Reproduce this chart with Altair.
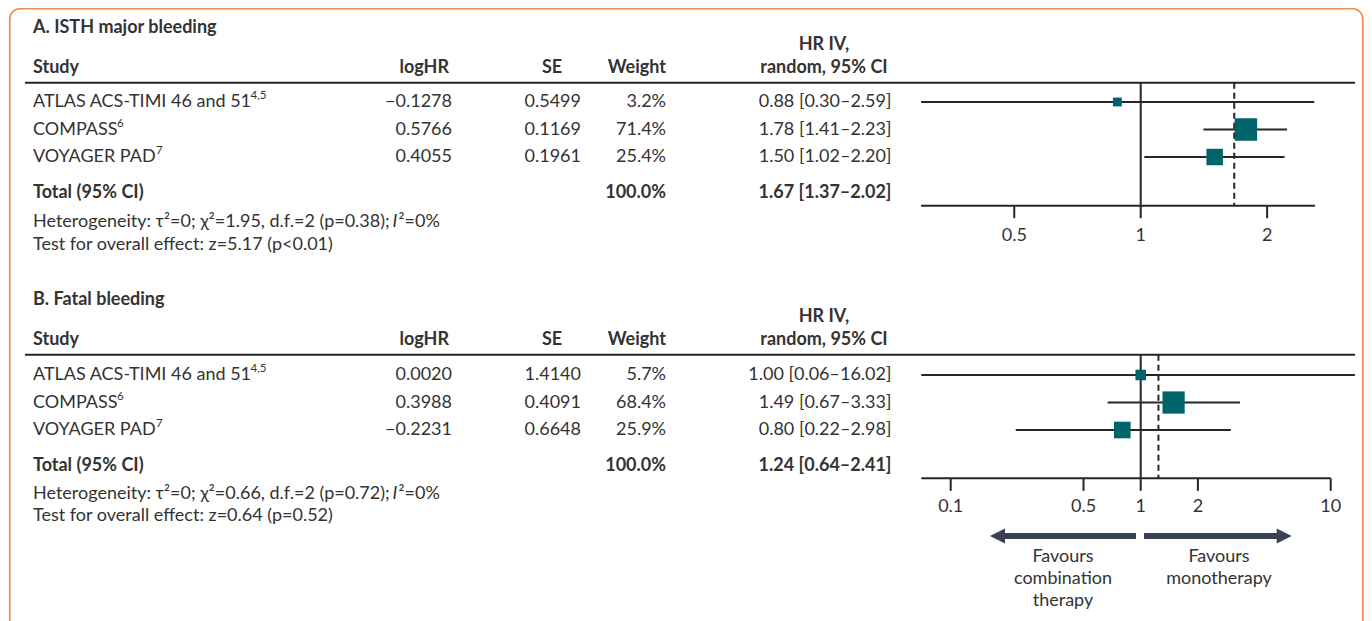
import math
import altair as alt
import pandas as pd

# ---------------- data ----------------
studies = ["ATLAS ACS-TIMI 46 and 51", "COMPASS", "VOYAGER PAD"]
study_refs = ["4,5", "6", "7"]

a_title = "A. ISTH major bleeding"
a_loghr = [-0.1278, 0.5766, 0.4055]
a_se = [0.5499, 0.1169, 0.1961]
a_weight = [3.2, 71.4, 25.4]
a_hr = [0.88, 1.78, 1.50]
a_lo = [0.30, 1.41, 1.02]
a_hi = [2.59, 2.23, 2.20]
a_total = [1.67, 1.37, 2.02]
a_het = ["Heterogeneity: τ²=0; χ²=1.95, d.f.=2 (p=0.38);", "I", "²=0%"]
a_test = "Test for overall effect: z=5.17 (p<0.01)"
a_ticks = [0.5, 1, 2]
a_axis = [0.3, 2.6]

b_title = "B. Fatal bleeding"
b_loghr = [0.0020, 0.3988, -0.2231]
b_se = [1.4140, 0.4091, 0.6648]
b_weight = [5.7, 68.4, 25.9]
b_hr = [1.00, 1.49, 0.80]
b_lo = [0.06, 0.67, 0.22]
b_hi = [16.02, 3.33, 2.98]
b_total = [1.24, 0.64, 2.41]
b_het = ["Heterogeneity: τ²=0; χ²=0.66, d.f.=2 (p=0.72);", "I", "²=0%"]
b_test = "Test for overall effect: z=0.64 (p=0.52)"
b_ticks = [0.1, 0.5, 1, 2, 10]
b_axis = [0.07, 10]

total_label = "Total (95% CI)"
total_weight = "100.0%"
header_cols = ["Study", "logHR", "SE", "Weight"]
header_hr = ["HR IV,", "random, 95% CI"]
favours_left = ["Favours", "combination", "therapy"]
favours_right = ["Favours", "monotherapy"]

# ---------------- style / layout ----------------
FONT = "Lato"
FS = 18
TXT = "#333333"
LINE = "#262626"
TEAL = "#00646B"
PURPLE = "#5B2372"
ORANGE = "#EE8A4E"
ARROW = "#3B4253"

OX, OY = 8, 8          # page offset of the view
W, H = 1356, 613


def px(x):
    return x - OX


def py(y):
    return y - OY


ROW_H = 27.5
A_FIRST, B_FIRST = 102, 375
TOTAL_GAP = 36
DIAMOND_H = 8.3

Y_SCALE = alt.Scale(domain=[0, 1], range=[py(A_FIRST), py(A_FIRST + ROW_H)], nice=False, zero=False)


def Y(field="r"):
    return alt.Y(f"{field}:Q", scale=Y_SCALE, axis=None)


def log_scale(center, per_decade, dom):
    rng = [px(center + per_decade * math.log10(d)) for d in dom]
    return alt.Scale(type="log", domain=dom, range=rng, clamp=True, nice=False)


A_SCALE = log_scale(1140.7, 420, [0.3, 2.6])
B_SCALE = log_scale(1140.7, 190, [0.07, 13.4])


def fmt_num(v):
    return f"{v:.4f}".replace("-", "−")


def one():
    return pd.DataFrame({"d": [0]})


def label(text, x, y, align="left", bold=False, italic=False, size=FS, color=TXT):
    kw = dict(align=align, baseline="middle", font=FONT, fontSize=size, color=color)
    if bold:
        kw["fontWeight"] = "bold"
    if italic:
        kw["fontStyle"] = "italic"
    return alt.Chart(pd.DataFrame({"t": [text]})).mark_text(**kw).encode(
        x=alt.value(px(x)), y=alt.value(py(y)), text="t:N")


def hrule(x1, x2, y, width=2, color=LINE):
    return alt.Chart(one()).mark_rule(color=color, strokeWidth=width).encode(
        x=alt.value(px(x1)), x2=alt.value(px(x2)), y=alt.value(py(y)))


layers = []

# border
layers.append(alt.Chart(one()).mark_rect(
    fill=None, stroke=ORANGE, strokeWidth=1.6, cornerRadius=10).encode(
    x=alt.value(1.8), x2=alt.value(W - 1.2), y=alt.value(0.8), y2=alt.value(py(660))))


def panel(title, loghr, se, weight, hr, lo, hi, total, het, test, ticks, axis, scale,
          first, title_y, hr_y, head_y, line_y, axis_y, tick_lab_y, het_y, test_y,
          sup_x, het_x):
    L = []
    rows = [(first - A_FIRST) / ROW_H + i for i in range(len(studies))]
    r_total = (first + (len(studies) - 1) * ROW_H + TOTAL_GAP - A_FIRST) / ROW_H
    df = pd.DataFrame({
        "study": studies, "loghr": [fmt_num(v) for v in loghr],
        "se": [f"{v:.4f}" for v in se], "wtxt": [f"{w:.1f}%" for w in weight],
        "ci": [f"{h:.2f} [{l:.2f}–{u:.2f}]" for h, l, u in zip(hr, lo, hi)],
        "hr": hr, "lo": lo, "hi": hi, "w": weight, "r": rows,
    })
    X = lambda f: alt.X(f"{f}:Q", scale=scale, axis=None)

    # titles & headers
    L.append(label(title, 33, title_y, bold=True))
    L.append(label(header_hr[0], 824, hr_y, align="center", bold=True))
    L.append(label(header_cols[0], 33, head_y, bold=True))
    L.append(label(header_cols[1], 449, head_y, align="right", bold=True))
    L.append(label(header_cols[2], 552, head_y, align="center", bold=True))
    L.append(label(header_cols[3], 666, head_y, align="right", bold=True))
    L.append(label(header_hr[1], 824, head_y, align="center", bold=True))
    L.append(hrule(25, 1355, line_y, width=2))

    # table rows
    def col(field, x, align):
        return alt.Chart(df).mark_text(align=align, baseline="middle", font=FONT,
                                       fontSize=FS, color=TXT).encode(
            x=alt.value(px(x)), y=Y(), text=f"{field}:N")
    L.append(col("study", 33, "left"))
    L.append(col("loghr", 452, "right"))
    L.append(col("se", 581, "right"))
    L.append(col("wtxt", 666, "right"))
    L.append(col("ci", 891.5, "right"))
    for i, ref in enumerate(study_refs):
        L.append(alt.Chart(pd.DataFrame({"t": [ref], "r": [rows[i]]})).mark_text(
            align="left", baseline="middle", font=FONT, fontSize=11.5, dy=-6, color=TXT).encode(
            x=alt.value(px(sup_x[i])), y=Y(), text="t:N"))

    # total row
    tdf = pd.DataFrame({"a": [total_label], "b": [total_weight],
                        "c": [f"{total[0]:.2f} [{total[1]:.2f}–{total[2]:.2f}]"],
                        "r": [r_total]})
    for field, x, align in [("a", 33, "left"), ("b", 666, "right"), ("c", 891.5, "right")]:
        L.append(alt.Chart(tdf).mark_text(align=align, baseline="middle", font=FONT,
                                          fontSize=FS, fontWeight="bold", color=TXT).encode(
            x=alt.value(px(x)), y=Y(), text=f"{field}:N"))

    # footnotes
    L.append(label(het[0], 33, het_y))
    L.append(label(het[1], het_x[0], het_y, italic=True))
    L.append(label(het[2], het_x[1], het_y))
    L.append(label(test, 33, test_y))

    # forest: reference lines
    L.append(alt.Chart(pd.DataFrame({"v": [1.0]})).mark_rule(color=LINE, strokeWidth=2).encode(
        x=X("v"), y=alt.value(py(line_y)), y2=alt.value(py(axis_y))))
    L.append(alt.Chart(pd.DataFrame({"v": [total[0]]})).mark_rule(
        color=LINE, strokeWidth=2, strokeDash=[6, 4]).encode(
        x=X("v"), y=alt.value(py(line_y)), y2=alt.value(py(axis_y))))
    # axis
    L.append(alt.Chart(pd.DataFrame({"a": [axis[0]], "b": [axis[1]]})).mark_rule(
        color=LINE, strokeWidth=2).encode(x=X("a"), x2=alt.X2("b:Q"), y=alt.value(py(axis_y))))
    tdf2 = pd.DataFrame({"t": ticks, "lab": [f"{t:g}" for t in ticks]})
    L.append(alt.Chart(tdf2).mark_rule(color=LINE, strokeWidth=2).encode(
        x=X("t"), y=alt.value(py(axis_y)), y2=alt.value(py(axis_y + 12.5))))
    L.append(alt.Chart(tdf2).mark_text(baseline="middle", align="center", font=FONT,
                                       fontSize=FS, color=TXT).encode(
        x=X("t"), y=alt.value(py(tick_lab_y)), text="lab:N"))

    # CI lines and squares
    L.append(alt.Chart(df).mark_rule(color=LINE, strokeWidth=2).encode(
        x=X("lo"), x2=alt.X2("hi:Q"), y=Y()))
    L.append(alt.Chart(df).mark_square(color=TEAL, opacity=1, filled=True).encode(
        x=X("hr"), y=Y(),
        size=alt.Size("w:Q", scale=alt.Scale(type="pow", exponent=0.6, domain=[0, 100],
                                             range=[0, 620]), legend=None)))
    # diamond
    h = DIAMOND_H / ROW_H
    ddf = pd.DataFrame({"x": [total[1], total[0], total[2]],
                        "r": [r_total, r_total - h, r_total],
                        "r2": [r_total, r_total + h, r_total], "o": [0, 1, 2]})
    L.append(alt.Chart(ddf).mark_area(color=PURPLE, orient="vertical", opacity=1).encode(
        x=X("x"), y=Y(), y2=alt.Y2("r2:Q"), order="o:Q"))
    return L


layers += panel(a_title, a_loghr, a_se, a_weight, a_hr, a_lo, a_hi, a_total, a_het, a_test,
                a_ticks, a_axis, A_SCALE, A_FIRST,
                title_y=28.3, hr_y=45, head_y=68.3, line_y=82.7, axis_y=205.7,
                tick_lab_y=235.5, het_y=221.7, test_y=244.5,
                sup_x=[250.5, 117, 156], het_x=[392.5, 398.5])
layers += panel(b_title, b_loghr, b_se, b_weight, b_hr, b_lo, b_hi, b_total, b_het, b_test,
                b_ticks, b_axis, B_SCALE, B_FIRST,
                title_y=300, hr_y=316.5, head_y=340, line_y=354.7, axis_y=478.3,
                tick_lab_y=506.5, het_y=494, test_y=516,
                sup_x=[250.5, 117, 156], het_x=[392.5, 398.5])

# favours arrows
layers.append(hrule(1000, 1136, 536, width=6, color=ARROW))
layers.append(hrule(1144, 1283, 536, width=6, color=ARROW))
layers.append(alt.Chart(one()).mark_point(
    shape="M -1 0 L 1 -1 L 1 1 Z", size=225, filled=True, color=ARROW, opacity=1).encode(
    x=alt.value(px(997.5)), y=alt.value(py(536))))
layers.append(alt.Chart(one()).mark_point(
    shape="M 1 0 L -1 -1 L -1 1 Z", size=225, filled=True, color=ARROW, opacity=1).encode(
    x=alt.value(px(1284.2)), y=alt.value(py(536))))
for i, t in enumerate(favours_left):
    layers.append(label(t, 1063, 556.5 + 22 * i, align="center"))
for i, t in enumerate(favours_right):
    layers.append(label(t, 1219, 556.5 + 22 * i, align="center"))

chart = alt.layer(*layers).resolve_scale(x="independent").properties(
    width=W, height=H, padding=0, autosize=alt.AutoSizeParams(type="none"),
    background="white",
).configure_view(stroke=None)

chart.save("out.html", embed_options={"renderer": "svg", "actions": False})
